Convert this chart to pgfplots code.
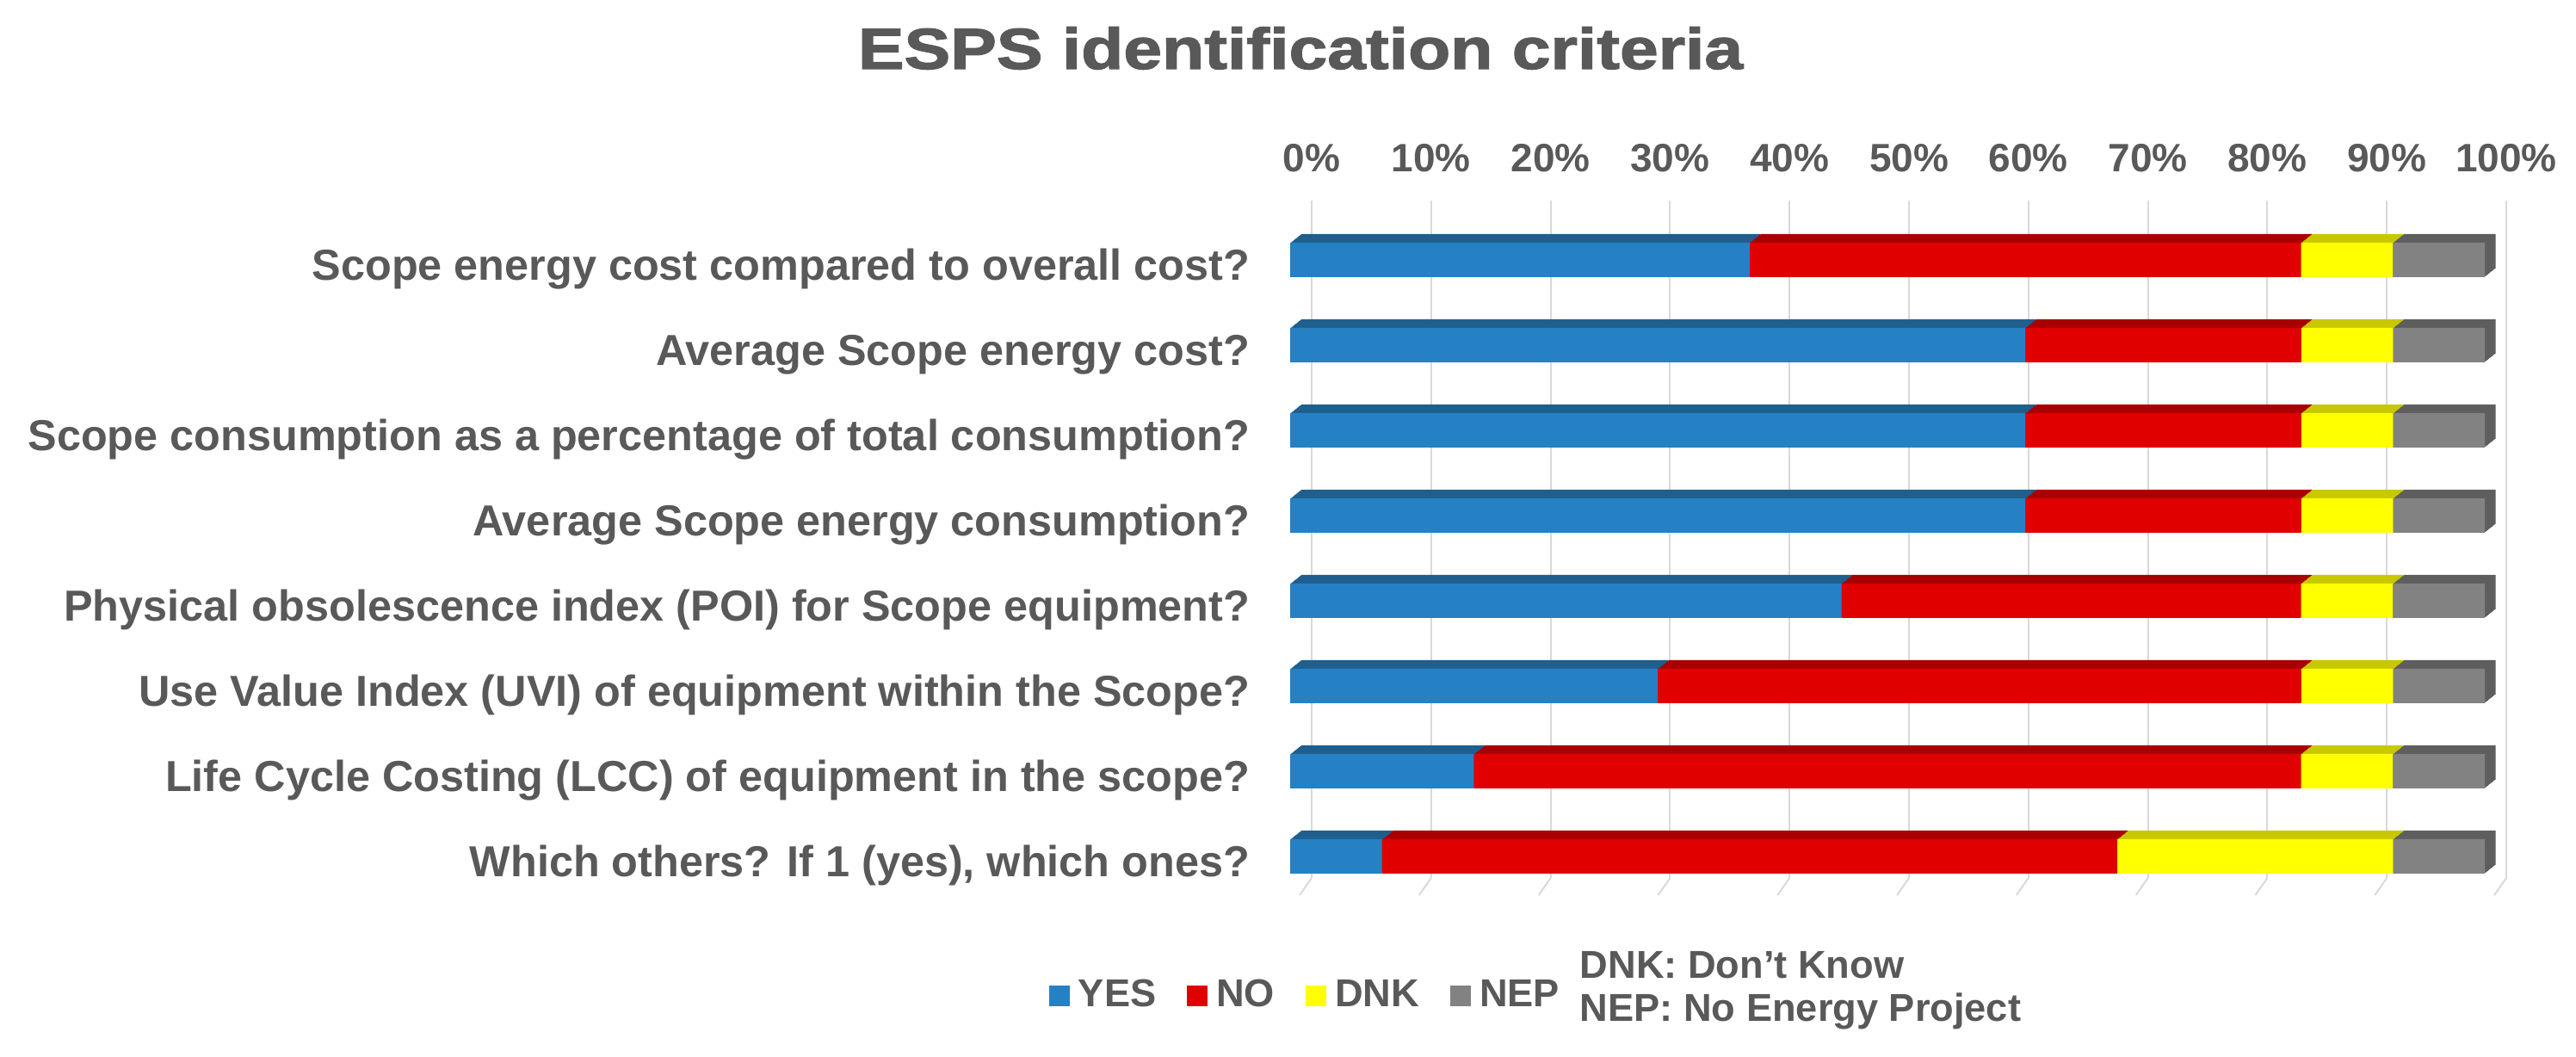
\documentclass[border=0pt]{standalone}
\usepackage{pgfplots}
\pgfplotsset{compat=1.18}
\usepackage{pgfplotstable}
\usepackage{fontspec}
\setmainfont{Liberation Sans}
\newfontfamily\titlefont[FakeStretch=1.2,FakeBold=2]{Liberation Sans Bold}
\definecolor{txt}{HTML}{595959}
\definecolor{cyes}{HTML}{2581C4}
\definecolor{cno}{HTML}{E00000}
\definecolor{cdnk}{HTML}{FFFF00}
\definecolor{cnep}{HTML}{828282}
\definecolor{tyes}{HTML}{1E5F8E}
\definecolor{tno}{HTML}{A80000}
\definecolor{tdnk}{HTML}{C8C800}
\definecolor{tnep}{HTML}{5E5E5E}
\definecolor{gridc}{HTML}{D9D9D9}

% y: 8 = top row ... 1 = bottom row ; values in percent (n = 13 answers)
\pgfplotstableread{
y yes no dnk nep
8 38.46 46.15 7.69 7.70
7 61.54 23.08 7.69 7.69
6 61.54 23.08 7.69 7.69
5 61.54 23.08 7.69 7.69
4 46.15 38.46 7.69 7.70
3 30.77 53.85 7.69 7.69
2 15.38 69.23 7.69 7.70
1 7.69 61.54 23.08 7.69
}\datatable

\pgfplotsset{
  baraxis/.style={scale only axis, anchor=south west, width=347pt, height=198pt,
    xmin=0, xmax=100, ymin=0.5, ymax=8.5, xbar stacked, bar width=10pt,
    /pgf/bar shift=0pt, clip=false, axis line style={draw=none},
    tick style={draw=none}, xtick=\empty, ytick=\empty},
  sq/.style={legend image code/.code={\fill[##1] (0pt,-3pt) rectangle (6pt,3pt);}}
}

\begin{document}
\begin{tikzpicture}
\path[use as bounding box] (0,0) rectangle (748.25pt,307pt);

% grid / top axis
\begin{axis}[scale only axis, anchor=south west, at={(381pt,52pt)},
  width=347pt, height=196.75pt, xmin=0, xmax=100, ymin=0, ymax=1, clip=false,
  axis line style={draw=none}, tick style={draw=none}, ytick=\empty,
  xtick={0,10,...,100},
  xticklabels={0\%,10\%,20\%,30\%,40\%,50\%,60\%,70\%,80\%,90\%,100\%},
  xticklabel pos=upper, xmajorgrids, grid style={gridc, line width=0.5pt},
  xticklabel style={font=\bfseries\fontsize{11.5}{13}\selectfont, text=txt,
    anchor=base, inner sep=0pt, yshift=8.25pt}]
\pgfplotsinvokeforeach{0,10,...,100}{\draw[gridc, line width=0.5pt] (axis cs:#1,0) -- ++(-3.5pt,-5pt);}
\end{axis}

% 3D depth (top and side faces)
\foreach \k in {10,9,...,1}{
\begin{axis}[baraxis, at={({374.75pt+0.3125pt*\k},{45.875pt+0.25pt*\k})}]
\addplot[fill=tyes, draw=none] table[x=yes, y=y]{\datatable};
\addplot[fill=tno, draw=none] table[x=no, y=y]{\datatable};
\addplot[fill=tdnk, draw=none] table[x=dnk, y=y]{\datatable};
\addplot[fill=tnep, draw=none] table[x=nep, y=y]{\datatable};
\end{axis}
}

% front faces
\begin{axis}[baraxis, at={(374.75pt,45.875pt)},
  ytick={1,...,8},
  yticklabels={{Which others? If 1 (yes), which ones?},
    {Life Cycle Costing (LCC) of equipment in the scope?},
    {Use Value Index (UVI) of equipment within the Scope?},
    {Physical obsolescence index (POI) for Scope equipment?},
    {Average Scope energy consumption?},
    {Scope consumption as a percentage of total consumption?},
    {Average Scope energy cost?},
    {Scope energy cost compared to overall cost?}},
  yticklabel style={font=\bfseries\fontsize{12.6}{14}\selectfont, text=txt,
    anchor=base east, inner sep=0pt, xshift=-11.5pt, yshift=-6pt},
  legend style={draw=none, fill=none, inner sep=0pt, at={(-0.2024,-0.142)},
    anchor=west, legend columns=-1,
    font=\bfseries\fontsize{11.3}{13}\selectfont, text=txt,
    /tikz/every odd column/.append style={column sep=1.5pt},
    /tikz/every even column/.append style={column sep=8pt},
    nodes={inner sep=1pt}},
  legend cell align=left]
\addplot[fill=cyes, draw=none, sq] table[x=yes, y=y]{\datatable};
\addlegendentry{YES}
\addplot[fill=cno, draw=none, sq] table[x=no, y=y]{\datatable};
\addlegendentry{NO}
\addplot[fill=cdnk, draw=none, sq] table[x=dnk, y=y]{\datatable};
\addlegendentry{DNK}
\addplot[fill=cnep, draw=none, sq] table[x=nep, y=y]{\datatable};
\addlegendentry{NEP}
\end{axis}

\node[anchor=base, text=txt, inner sep=0pt] at (377.75pt,287pt)
  {\titlefont\fontsize{16.76}{20}\selectfont ESPS identification criteria};
\node[anchor=base west, text=txt, inner sep=0pt,
  font=\bfseries\fontsize{11.3}{13}\selectfont] at (458.75pt,22.75pt) {DNK: Don’t Know};
\node[anchor=base west, text=txt, inner sep=0pt,
  font=\bfseries\fontsize{11.3}{13}\selectfont] at (458.75pt,10.25pt) {NEP: No Energy Project};
\end{tikzpicture}
\end{document}
